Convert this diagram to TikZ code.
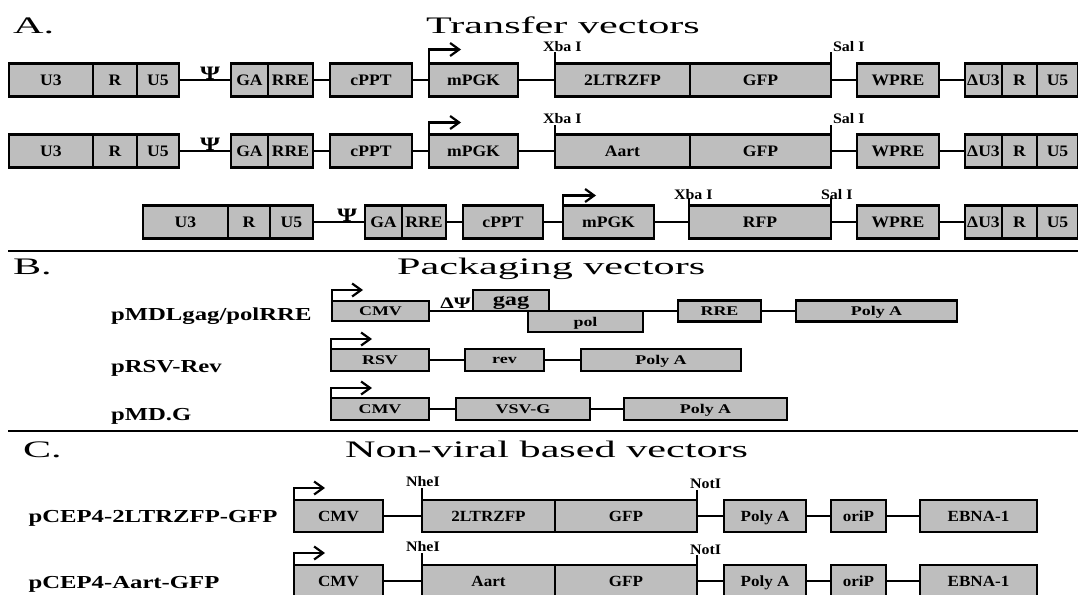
\documentclass[tikz,border=0pt]{standalone}
\usepackage{fontspec}
\setmainfont{Liberation Serif}
\newfontfamily\headfont{Liberation Serif}[FakeStretch=1.78]
\newfontfamily\namefont{Liberation Serif}[FakeStretch=1.35]
\newfontfamily\partfont{Liberation Serif}[FakeStretch=1.1]
\usetikzlibrary{arrows.meta,positioning}
\definecolor{partgray}{RGB}{190,190,190}

\begin{document}
\begin{tikzpicture}[x=1pt,y=-1pt,line width=2.2pt,
  part/.style={draw,fill=partgray,outer sep=0pt,inner sep=0pt,minimum height=33pt,
    text depth=0pt,font=\partfont\bfseries\fontsize{16}{16}\selectfont},
  cpart/.style={part,minimum height=32pt,font=\partfont\bfseries\fontsize{15.5}{16}\selectfont},
  bpart/.style={part,minimum height=22pt,font=\namefont\bfseries\fontsize{13.3}{14}\selectfont},
  promoter/.style={-{Straight Barb[length=9pt,width=13pt]}},
  site/.style={anchor=base west,inner sep=0pt,font=\partfont\bfseries\fontsize{14.5}{15}\selectfont},
  psi/.style={anchor=base,inner sep=0pt,font=\namefont\bfseries\fontsize{19}{19}\selectfont},
  vname/.style={anchor=base west,inner sep=0pt,font=\namefont\bfseries\fontsize{18.3}{19}\selectfont},
  heading/.style={anchor=base west,inner sep=0pt,font=\headfont\fontsize{23.7}{24}\selectfont}]

  \useasboundingbox (0,0) rectangle (1078,594);

  % A. transfer vectors
  \node[heading] (ta) at (12,34) {A.};
  \node[heading] (tta) at (425,34) {Transfer vectors};

  % 2LTRZFP-GFP
  \node[part,minimum width=84pt] (u3a) at (51,80) {U3};
  \node[part,minimum width=44pt,right=0pt of u3a] (ra) {R};
  \node[part,minimum width=42pt,right=0pt of ra] (u5a) {U5};
  \node[psi] (psia) at (210,79) {Ψ};
  \node[part,minimum width=37pt] (gaa) at (249.5,80) {GA};
  \node[part,minimum width=45pt,right=0pt of gaa] (rrea) {RRE};
  \node[part,minimum width=82pt] (cppta) at (371,80) {cPPT};
  \node[part,minimum width=89pt] (mpgka) at (473.5,80) {mPGK};
  \node[part,minimum width=135pt] (zfpa) at (622.5,80) {2LTRZFP};
  \node[part,minimum width=141pt,right=0pt of zfpa] (gfpa) {GFP};
  \node[part,minimum width=82pt] (wprea) at (898,80) {WPRE};
  \node[part,minimum width=37pt] (du3a) at (983.5,80) {ΔU3};
  \node[part,minimum width=35pt,right=0pt of du3a] (rra) {R};
  \node[part,minimum width=41pt,right=0pt of rra] (u5ra) {U5};
  \draw (u5a) -- (gaa);
  \draw (rrea) -- (cppta);
  \draw (cppta) -- (mpgka);
  \draw (mpgka) -- (zfpa);
  \draw (gfpa) -- (wprea);
  \draw (wprea) -- (du3a);
  \draw[promoter] (mpgka.north west) -- ++(0,-14) -- ++(32,0);
  \draw (zfpa.north west) -- ++(0,-11);
  \draw (gfpa.north east) -- ++(0,-11);
  \node[site] (xbaa) at (542,51.5) {Xba I};
  \node[site] (sala) at (832,51.5) {Sal I};

  % Aart-GFP
  \node[part,minimum width=84pt] (u3b) at (51,151) {U3};
  \node[part,minimum width=44pt,right=0pt of u3b] (rb) {R};
  \node[part,minimum width=42pt,right=0pt of rb] (u5b) {U5};
  \node[psi] (psib) at (210,150) {Ψ};
  \node[part,minimum width=37pt] (gab) at (249.5,151) {GA};
  \node[part,minimum width=45pt,right=0pt of gab] (rreb) {RRE};
  \node[part,minimum width=82pt] (cpptb) at (371,151) {cPPT};
  \node[part,minimum width=89pt] (mpgkb) at (473.5,151) {mPGK};
  \node[part,minimum width=135pt] (aartb) at (622.5,151) {Aart};
  \node[part,minimum width=141pt,right=0pt of aartb] (gfpb) {GFP};
  \node[part,minimum width=82pt] (wpreb) at (898,151) {WPRE};
  \node[part,minimum width=37pt] (du3b) at (983.5,151) {ΔU3};
  \node[part,minimum width=35pt,right=0pt of du3b] (rrb) {R};
  \node[part,minimum width=41pt,right=0pt of rrb] (u5rb) {U5};
  \draw (u5b) -- (gab);
  \draw (rreb) -- (cpptb);
  \draw (cpptb) -- (mpgkb);
  \draw (mpgkb) -- (aartb);
  \draw (gfpb) -- (wpreb);
  \draw (wpreb) -- (du3b);
  \draw[promoter] (mpgkb.north west) -- ++(0,-12) -- ++(32,0);
  \draw (aartb.north west) -- ++(0,-10);
  \draw (gfpb.north east) -- ++(0,-10);
  \node[site] (xbab) at (542,123) {Xba I};
  \node[site] (salb) at (832,123) {Sal I};

  % RFP
  \node[part,minimum width=85pt] (u3c) at (185.5,222) {U3};
  \node[part,minimum width=42pt,right=0pt of u3c] (rc) {R};
  \node[part,minimum width=43pt,right=0pt of rc] (u5c) {U5};
  \node[psi] (psic) at (347,221) {Ψ};
  \node[part,minimum width=37pt] (gac) at (383.5,222) {GA};
  \node[part,minimum width=44pt,right=0pt of gac] (rrec) {RRE};
  \node[part,minimum width=80pt] (cpptc) at (503,222) {cPPT};
  \node[part,minimum width=91pt] (mpgkc) at (608.5,222) {mPGK};
  \node[part,minimum width=142pt] (rfpc) at (760,222) {RFP};
  \node[part,minimum width=82pt] (wprec) at (898,222) {WPRE};
  \node[part,minimum width=37pt] (du3c) at (983.5,222) {ΔU3};
  \node[part,minimum width=35pt,right=0pt of du3c] (rrc) {R};
  \node[part,minimum width=41pt,right=0pt of rrc] (u5rc) {U5};
  \draw (u5c) -- (gac);
  \draw (rrec) -- (cpptc);
  \draw (cpptc) -- (mpgkc);
  \draw (mpgkc) -- (rfpc);
  \draw (rfpc) -- (wprec);
  \draw (wprec) -- (du3c);
  \draw[promoter] (mpgkc.north west) -- ++(0,-10) -- ++(33,0);
  \draw (rfpc.north west) -- ++(0,-8);
  \draw (rfpc.north east) -- ++(0,-8);
  \node[site] (xbac) at (673,199) {Xba I};
  \node[site] (salc) at (820,199) {Sal I};

  \draw (8,251) -- (1078,251);

  % B. packaging vectors
  \node[heading] (tb) at (12,274) {B.};
  \node[heading] (ttb) at (396,274) {Packaging vectors};

  \node[vname] (pmdl) at (110,320) {pMDLgag/polRRE};
  \node[bpart,minimum width=97pt,minimum height=20pt] (cmvb) at (380.5,311) {CMV};
  \node[psi,font=\namefont\bfseries\fontsize{16}{16}\selectfont] (dpsi) at (455.5,308) {ΔΨ};
  \node[bpart,minimum width=76pt,minimum height=21pt,
    font=\namefont\bfseries\fontsize{18}{18}\selectfont] (gag) at (511,300.5) {gag};
  \node[bpart,minimum width=115pt,minimum height=21pt] (pol) at (585.5,321.5) {pol};
  \node[bpart,minimum width=83pt,minimum height=21pt] (rrep) at (719.5,311) {RRE};
  \node[bpart,minimum width=161pt,minimum height=21pt] (polyp) at (876.5,311) {Poly A};
  \draw (cmvb) -- (gag.south west);
  \draw (pol.north east) -- (rrep);
  \draw (rrep) -- (polyp);
  \draw[promoter] (cmvb.north west) -- ++(0,-11) -- ++(31,0);

  \node[vname] (prsv) at (110,372) {pRSV-Rev};
  \node[bpart,minimum width=98pt] (rsv) at (380,360) {RSV};
  \node[bpart,minimum width=79pt] (rev) at (504.5,360) {rev};
  \node[bpart,minimum width=160pt] (polyr) at (661,360) {Poly A};
  \draw (rsv) -- (rev);
  \draw (rev) -- (polyr);
  \draw[promoter] (rsv.north west) -- ++(0,-10) -- ++(41,0);

  \node[vname] (pmdg) at (110,420) {pMD.G};
  \node[bpart,minimum width=98pt] (cmvg) at (380,409) {CMV};
  \node[bpart,minimum width=134pt] (vsvg) at (523,409) {VSV-G};
  \node[bpart,minimum width=163pt] (polyg) at (705.5,409) {Poly A};
  \draw (cmvg) -- (vsvg);
  \draw (vsvg) -- (polyg);
  \draw[promoter] (cmvg.north west) -- ++(0,-10) -- ++(41,0);

  \draw (8,431) -- (1078,431);

  % C. non-viral based vectors
  \node[heading] (tc) at (22,457) {C.};
  \node[heading] (ttc) at (344,457) {Non-viral based vectors};

  \node[vname] (pcepz) at (27.5,522) {pCEP4-2LTRZFP-GFP};
  \node[cpart,minimum width=89pt] (cmvz) at (338.5,516) {CMV};
  \node[cpart,minimum width=133pt] (zfpz) at (488.5,516) {2LTRZFP};
  \node[cpart,minimum width=142pt,right=0pt of zfpz] (gfpz) {GFP};
  \node[cpart,minimum width=82pt] (polyz) at (765,516) {Poly A};
  \node[cpart,minimum width=55pt] (oriz) at (858.5,516) {oriP};
  \node[cpart,minimum width=117pt] (ebnaz) at (978.5,516) {EBNA-1};
  \draw (cmvz) -- (zfpz);
  \draw (gfpz) -- (polyz);
  \draw (polyz) -- (oriz);
  \draw (oriz) -- (ebnaz);
  \draw[promoter] (cmvz.north west) -- ++(0,-12) -- ++(31,0);
  \draw (zfpz.north west) -- ++(0,-12);
  \draw (gfpz.north east) -- ++(0,-10);
  \node[site] (nhez) at (405,486) {NheI};
  \node[site] (notz) at (689,488) {NotI};

  \node[vname] (pcepa) at (27.5,588) {pCEP4-Aart-GFP};
  \node[cpart,minimum width=89pt] (cmva) at (338.5,581) {CMV};
  \node[cpart,minimum width=133pt] (aart) at (488.5,581) {Aart};
  \node[cpart,minimum width=142pt,right=0pt of aart] (gfpaa) {GFP};
  \node[cpart,minimum width=82pt] (polya) at (765,581) {Poly A};
  \node[cpart,minimum width=55pt] (oria) at (858.5,581) {oriP};
  \node[cpart,minimum width=117pt] (ebnaa) at (978.5,581) {EBNA-1};
  \draw (cmva) -- (aart);
  \draw (gfpaa) -- (polya);
  \draw (polya) -- (oria);
  \draw (oria) -- (ebnaa);
  \draw[promoter] (cmva.north west) -- ++(0,-12) -- ++(31,0);
  \draw (aart.north west) -- ++(0,-12);
  \draw (gfpaa.north east) -- ++(0,-10);
  \node[site] (nhea) at (405,551) {NheI};
  \node[site] (nota) at (689,554) {NotI};
\end{tikzpicture}
\end{document}
